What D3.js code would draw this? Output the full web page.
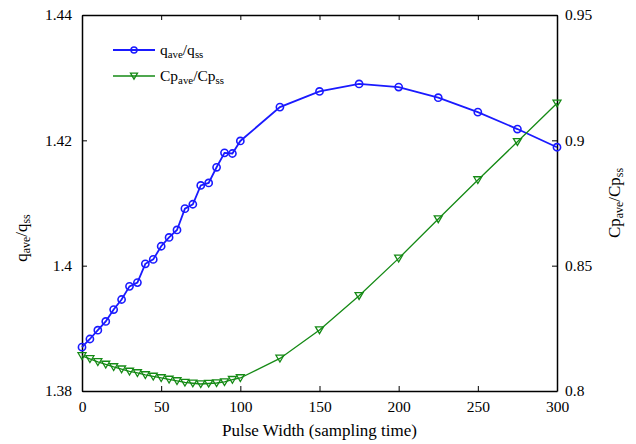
<!DOCTYPE html>
<html>
<head>
<meta charset="utf-8">
<script src="https://cdn.jsdelivr.net/npm/d3@7"></script>
</head>
<body style="margin:0">
<svg id="chart" width="636" height="444"></svg>
<script>
// Pulse width (sampling time)
const pulseWidth = [0, 5, 10, 15, 20, 25, 30, 35, 40, 45, 50, 55, 60, 65, 70, 75, 80, 85, 90, 95, 100,
                    125, 150, 175, 200, 225, 250, 275, 300];
// Ratio of average to steady-state production rate (left axis)
const qRatio = [1.3870, 1.3883, 1.3897, 1.3911, 1.3930, 1.3946, 1.3967, 1.3973, 1.4003, 1.4010, 1.4031,
                1.4045, 1.4057, 1.4091, 1.4098, 1.4128, 1.4132, 1.4157, 1.4180, 1.4179, 1.4199,
                1.4253, 1.4278, 1.4290, 1.4285, 1.4268, 1.4245, 1.4218, 1.4189];
// Ratio of average to steady-state concentration (right axis)
const cpRatio = [0.8140, 0.8128, 0.8116, 0.8106, 0.8096, 0.8087, 0.8078, 0.8072, 0.8064, 0.8058, 0.8052,
                 0.8046, 0.8040, 0.8034, 0.8031, 0.8028, 0.8030, 0.8032, 0.8036, 0.8045, 0.8052,
                 0.8130, 0.8243, 0.8380, 0.8529, 0.8686, 0.8842, 0.8994, 0.9148];

const xTicks = [0, 50, 100, 150, 200, 250, 300];
const yLeftTicks = [1.38, 1.40, 1.42, 1.44];
const yRightTicks = [0.80, 0.85, 0.90, 0.95];

const svg = d3.select("#chart");
const m = { left: 82, top: 15, right: 557, bottom: 391 };

const x = d3.scaleLinear().domain([0, 300]).range([m.left, m.right]);
const yL = d3.scaleLinear().domain([1.38, 1.44]).range([m.bottom, m.top]);
const yR = d3.scaleLinear().domain([0.80, 0.95]).range([m.bottom, m.top]);

const blue = "#1a1aff";
const green = "#158a15";
const serif = "Liberation Serif";
const tickFont = "15.5px";
const labelFont = "17px";

// Axes with inward ticks
const fmtL = d => d3.format("")(+d.toFixed(2));
svg.append("g").attr("transform", `translate(0,${m.bottom})`)
  .call(d3.axisBottom(x).tickValues(xTicks).tickSizeInner(-5).tickSizeOuter(0).tickPadding(10));
svg.append("g").attr("transform", `translate(0,${m.top})`)
  .call(d3.axisTop(x).tickValues(xTicks).tickSizeInner(-5).tickSizeOuter(0).tickFormat(""));
svg.append("g").attr("transform", `translate(${m.left},0)`)
  .call(d3.axisLeft(yL).tickValues(yLeftTicks).tickSizeInner(-5).tickSizeOuter(0).tickPadding(10).tickFormat(fmtL));
svg.append("g").attr("transform", `translate(${m.right},0)`)
  .call(d3.axisRight(yR).tickValues(yRightTicks).tickSizeInner(-5).tickSizeOuter(0).tickPadding(8).tickFormat(fmtL));
svg.selectAll("g").attr("font-family", null).attr("font-size", null);
svg.selectAll(".tick text").style("font-family", serif).style("font-size", tickFont).style("fill", "#000");
svg.selectAll(".domain").attr("stroke", "#000").attr("stroke-width", 1.5);
svg.selectAll(".tick line").attr("stroke", "#000").attr("stroke-width", 1);

// Series lines
const lineQ = d3.line().x((d, i) => x(pulseWidth[i])).y(d => yL(d));
const lineC = d3.line().x((d, i) => x(pulseWidth[i])).y(d => yR(d));

svg.append("path").datum(qRatio).attr("d", lineQ)
  .attr("fill", "none").attr("stroke", blue).attr("stroke-width", 1.8);
svg.append("path").datum(cpRatio).attr("d", lineC)
  .attr("fill", "none").attr("stroke", green).attr("stroke-width", 1.3);

// Markers
const tri = s => `M${-s},${-s * 0.8}L${s},${-s * 0.8}L0,${s * 0.9}Z`;
svg.append("g").selectAll("circle").data(qRatio).join("circle")
  .attr("cx", (d, i) => x(pulseWidth[i])).attr("cy", d => yL(d)).attr("r", 3.6)
  .attr("fill", "none").attr("stroke", blue).attr("stroke-width", 1.6);
svg.append("g").selectAll("path").data(cpRatio).join("path")
  .attr("transform", (d, i) => `translate(${x(pulseWidth[i])},${yR(d)})`)
  .attr("d", tri(4)).attr("fill", "none").attr("stroke", green).attr("stroke-width", 1.3);

// Text with subscripts
function ratioLabel(sel, a) {
  sel.append("tspan").text(a);
  sel.append("tspan").attr("baseline-shift", "-25%").style("font-size", "70%").text("ave");
  sel.append("tspan").text("/" + a);
  sel.append("tspan").attr("baseline-shift", "-25%").style("font-size", "70%").text("ss");
}

// Legend
const legend = svg.append("g");
const rows = [
  { a: "q", color: blue, marker: "circle", y: 50 },
  { a: "Cp", color: green, marker: "tri", y: 76 }
];
rows.forEach(r => {
  legend.append("line").attr("x1", 113).attr("x2", 155).attr("y1", r.y).attr("y2", r.y)
    .attr("stroke", r.color).attr("stroke-width", r.marker === "circle" ? 1.8 : 1.3);
  if (r.marker === "circle") {
    legend.append("circle").attr("cx", 134).attr("cy", r.y).attr("r", 3)
      .attr("fill", "none").attr("stroke", r.color).attr("stroke-width", 1.5);
  } else {
    legend.append("path").attr("transform", `translate(134,${r.y})`).attr("d", tri(3.5))
      .attr("fill", "none").attr("stroke", r.color).attr("stroke-width", 1.3);
  }
  const t = legend.append("text").attr("x", 160).attr("y", r.y + 5)
    .style("font-family", serif).style("font-size", tickFont);
  ratioLabel(t, r.a);
});

// Axis titles
svg.append("text").attr("x", (m.left + m.right) / 2).attr("y", 436)
  .attr("text-anchor", "middle").style("font-family", serif).style("font-size", labelFont)
  .text("Pulse Width (sampling time)");

const yl = svg.append("text").attr("transform", "translate(27,238) rotate(-90)")
  .attr("text-anchor", "middle").style("font-family", serif).style("font-size", labelFont);
ratioLabel(yl, "q");

const yr = svg.append("text").attr("transform", "translate(620,203) rotate(-90)")
  .attr("text-anchor", "middle").style("font-family", serif).style("font-size", labelFont);
ratioLabel(yr, "Cp");
</script>
</body>
</html>
